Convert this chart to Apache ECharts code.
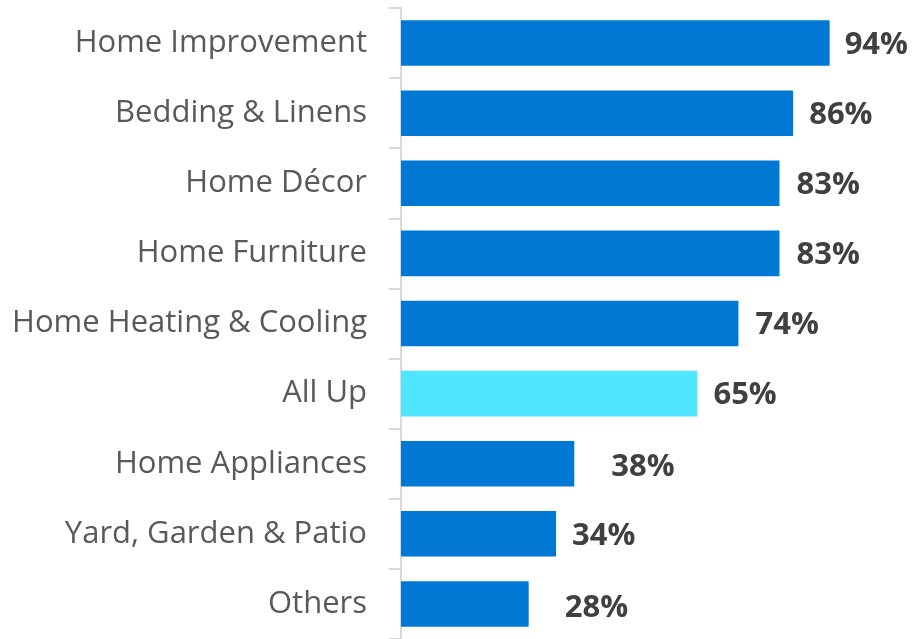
<!DOCTYPE html>
<html>
<head>
<meta charset="utf-8">
<script src="https://cdn.jsdelivr.net/npm/echarts@6/dist/echarts.min.js"></script>
<style>
  html, body { margin: 0; padding: 0; background: #ffffff; }
  #chart { width: 914px; height: 639px; }
</style>
</head>
<body>
<div id="chart"></div>
<script>
// Share of shoppers by home category (percent)
const categories = [
  'Home Improvement',
  'Bedding & Linens',
  'Home Décor',
  'Home Furniture',
  'Home Heating & Cooling',
  'All Up',
  'Home Appliances',
  'Yard, Garden & Patio',
  'Others'
];
const values = [94, 86, 83, 83, 74, 65, 38, 34, 28];
const highlight = 'All Up';

// Label spacing after each bar end (px)
const labelGap = [15, 16, 17, 17, 17, 16, 37, 16, 36];
const labelDrop = [2, 2, 2, 2, 2, 2, 3, 2, 4];

const BLUE = '#0078D4';
const CYAN = '#50E6FF';

const chart = echarts.init(document.getElementById('chart'), null, { renderer: 'canvas' });

const data = values.map((v, i) => ({
  value: v,
  itemStyle: { color: categories[i] === highlight ? CYAN : BLUE },
  label: { distance: labelGap[i], offset: [0, labelDrop[i]] }
}));

chart.setOption({
  animation: false,
  backgroundColor: '#ffffff',
  grid: { left: 401, top: 8, width: 456, height: 636, containLabel: false },
  xAxis: {
    type: 'value',
    min: 0,
    max: 100,
    show: false
  },
  yAxis: {
    type: 'category',
    data: categories,
    inverse: true,
    axisLine: { show: true, lineStyle: { color: '#d9d9d9', width: 2 } },
    axisTick: { show: true, length: 12, alignWithLabel: false, lineStyle: { color: '#d9d9d9', width: 2 } },
    axisLabel: {
      margin: 34,
      color: '#595959',
      fontSize: 31,
      fontFamily: 'Open Sans'
    },
    splitLine: { show: false }
  },
  series: [{
    type: 'bar',
    data: data,
    barCategoryGap: '35%',
    label: {
      show: true,
      position: 'right',
      formatter: '{c}%',
      color: '#404040',
      fontSize: 31,
      fontWeight: 'bold',
      fontFamily: 'Open Sans'
    }
  }]
});
</script>
</body>
</html>
